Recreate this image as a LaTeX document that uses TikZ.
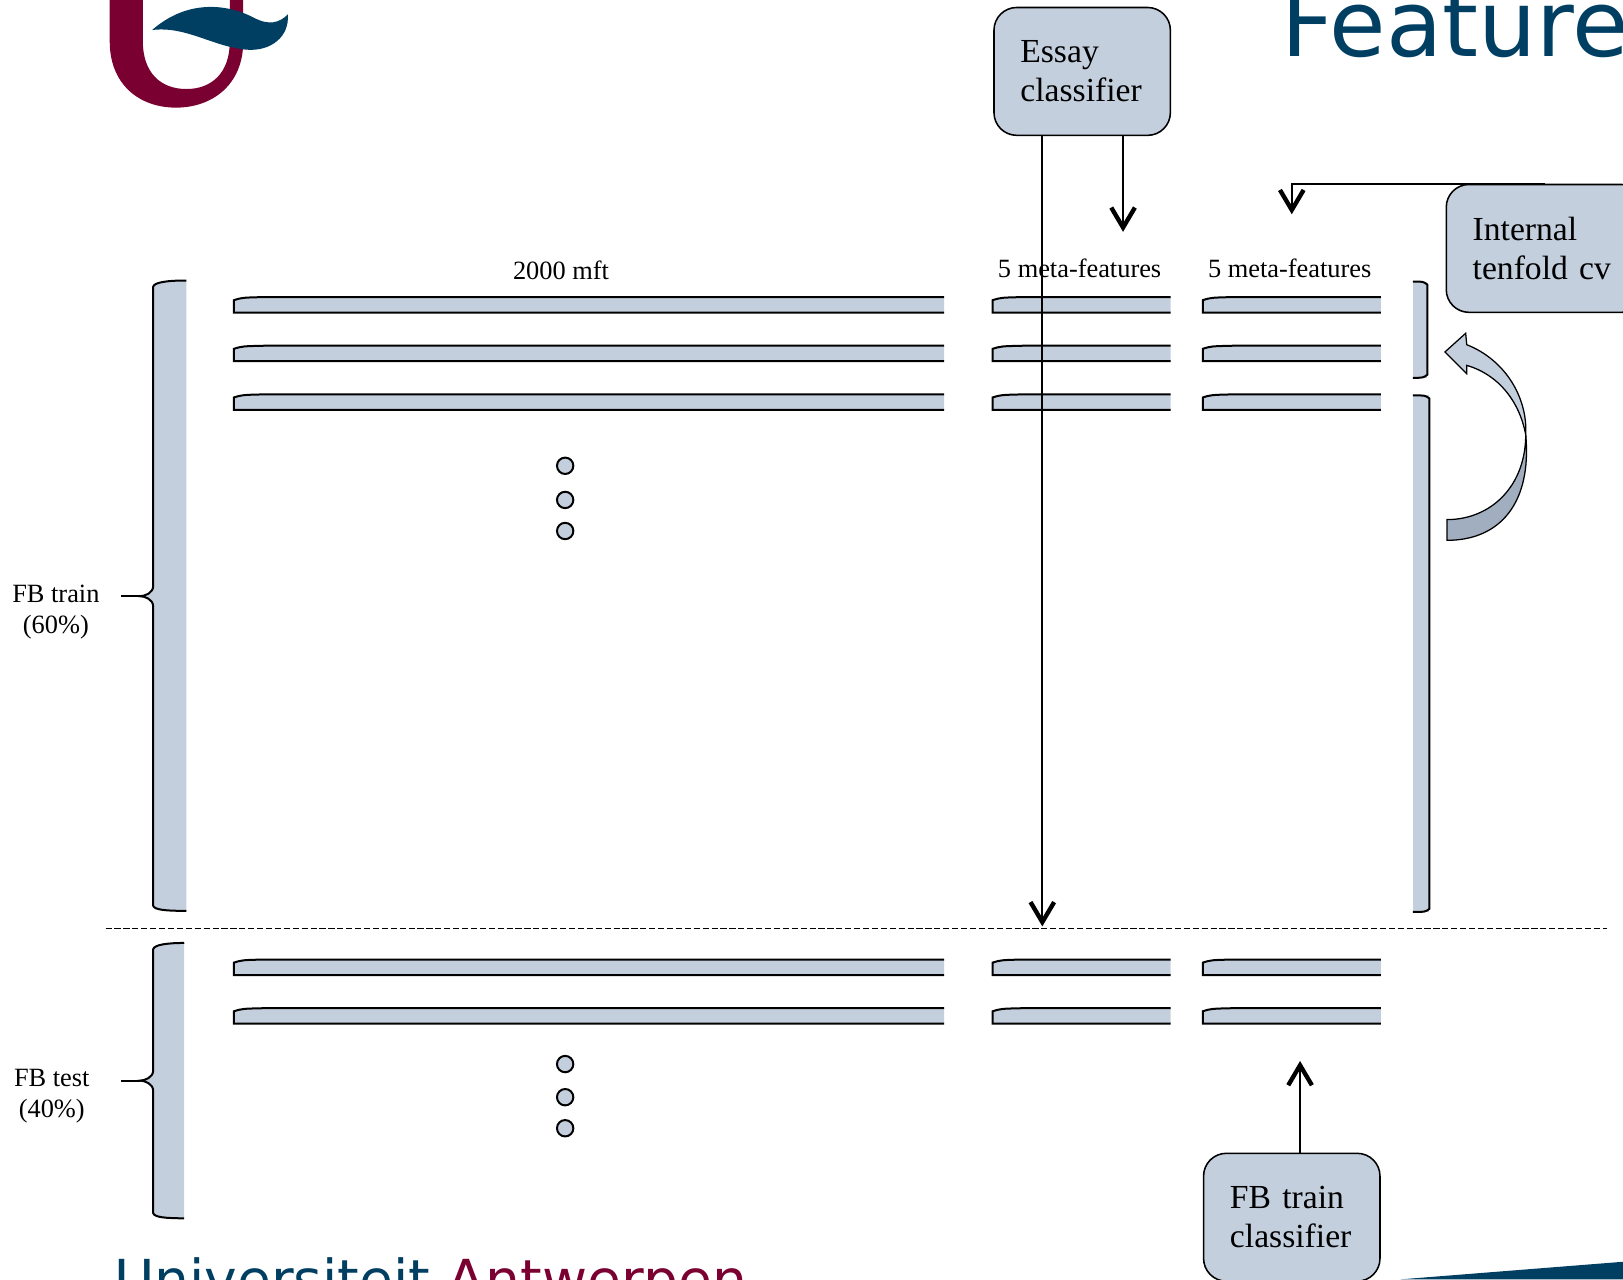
\documentclass[tikz,border=0pt]{standalone}
\usepackage{fontspec}
\setmainfont{Liberation Serif}
\newfontfamily\slidefont{DejaVu Sans}
\usetikzlibrary{arrows.meta,positioning}

\definecolor{barblue}{RGB}{196,207,222}
\definecolor{bardark}{RGB}{160,174,192}
\definecolor{uablue}{RGB}{0,62,98}
\definecolor{uared}{RGB}{122,0,49}

\tikzset{
  box/.style={draw, fill=barblue, rounded corners=12.5pt, line width=0.85pt,
    inner xsep=14.5pt, text width=68pt, minimum height=70.3pt, align=left,
    font=\fontsize{18.5}{21.5}\selectfont},
  lbl/.style={inner sep=0pt, font=\fontsize{14.5}{17}\selectfont},
  arr/.style={line width=1pt, -{Straight Barb[length=11pt,width=13pt,line width=2.4pt]}},
  barline/.style={line width=1.1pt},
}

% one feature vector: left x, right x, top y
\newcommand{\featbar}[3]{%
  \fill[barblue] (#2,#3) -- (#1+30,#3) .. controls (#1+8,#3+0.5) .. (#1,#3+3) -- (#1,#3+15) -- (#2,#3+15) -- cycle;
  \draw[barline] (#2,#3) -- (#1+30,#3) .. controls (#1+8,#3+0.5) .. (#1,#3+3) -- (#1,#3+15) -- (#2,#3+15);}

\begin{document}
\begin{tikzpicture}[x=0.02cm,y=-0.02cm]
    \useasboundingbox (0,0) rectangle (1568,1236);
    \clip (0,0) rectangle (1568,1236);
    % slide decoration
    \fill[uared] (106,-10) -- (106,40) .. controls (106,82) and (135,104) .. (170,104)
      .. controls (205,104) and (235,82) .. (235,40) -- (235,-10) -- (222,-10) -- (222,40)
      .. controls (222,70) and (205,86) .. (180,86) .. controls (155,86) and (138,70) .. (138,40) -- (138,-10) -- cycle;
    \fill[uablue] (147,29) .. controls (180,0) and (218,3) .. (245,17) .. controls (260,25) and (270,22) .. (278,14)
      .. controls (280,35) and (262,50) .. (238,48) .. controls (205,45) and (180,25) .. (147,29) -- cycle;
    \node[anchor=base west, inner sep=0pt, text=uablue, font=\slidefont\fontsize{50.5}{60}\selectfont] (title) at (1238,55) {Feature};
    \node[anchor=base west, inner sep=0pt, font=\slidefont\fontsize{30.3}{36}\selectfont] (ua) at (110,1255)
      {\textcolor{uablue}{Universiteit} \textcolor{uared}{Antwerpen}};
    \fill[uablue] (1353,1236) -- (1568,1219) -- (1568,1236) -- cycle;

    % feature vectors
    \foreach \y in {287,334,381,927,974}{
      \featbar{226}{912}{\y}
      \featbar{959}{1131}{\y}
      \featbar{1162}{1334}{\y}
    }
    \foreach \y in {450,483,513,1028,1060,1090}
      \draw[fill=barblue, line width=1.1pt] (546,\y) circle (4.5pt);

    \node[lbl] (mft) at (542,261) {2000 mft};
    \node[lbl] (meta1) at (1043,259) {5 meta-features};
    \node[lbl] (meta2) at (1246,259) {5 meta-features};

    % train / test braces
    \fill[barblue] (180,271) .. controls (160,271) and (149,273) .. (148,277) -- (148,566) .. controls (148,573) and (140,576) .. (135,576)
      .. controls (140,576) and (148,579) .. (148,586) -- (148,875) .. controls (149,879) and (160,880) .. (180,880) -- cycle;
    \draw[barline] (180,271) .. controls (160,271) and (149,273) .. (148,277) -- (148,566) .. controls (148,573) and (140,576) .. (135,576)
      .. controls (140,576) and (148,579) .. (148,586) -- (148,875) .. controls (149,879) and (160,880) .. (180,880);
    \draw[barline] (117,576) -- (135,576);
    \fill[barblue] (178,911) .. controls (160,911) and (149,913) .. (148,917) -- (148,1034) .. controls (148,1041) and (140,1044) .. (135,1044)
      .. controls (140,1044) and (148,1047) .. (148,1054) -- (148,1172) .. controls (149,1176) and (160,1177) .. (178,1177) -- cycle;
    \draw[barline] (178,911) .. controls (160,911) and (149,913) .. (148,917) -- (148,1034) .. controls (148,1041) and (140,1044) .. (135,1044)
      .. controls (140,1044) and (148,1047) .. (148,1054) -- (148,1172) .. controls (149,1176) and (160,1177) .. (178,1177);
    \draw[barline] (117,1044) -- (135,1044);
    \node[lbl, align=center] (train) at (54,591) {FB train\\(60\%)};
    \node[lbl, align=center] (test) at (50,1059) {FB test\\(40\%)};

    % folds on the right
    \fill[barblue] (1365,272) rectangle (1379,365);
    \draw[barline] (1365,272) .. controls (1375,272) .. (1379,275) -- (1379,362) .. controls (1375,365) .. (1365,365);
    \fill[barblue] (1365,382) rectangle (1381,881);
    \draw[barline] (1365,382) .. controls (1377,382) .. (1381,385) -- (1381,878) .. controls (1377,881) .. (1365,881);
    \filldraw[fill=barblue, line width=0.7pt] (1417,333) .. controls (1455,348) and (1476,385) .. (1474,420)
      .. controls (1468,388) and (1448,362) .. (1417,353) -- (1417,361) -- (1396,340) -- (1416,322) -- cycle;
    \filldraw[fill=bardark, line width=0.7pt] (1474,420) .. controls (1474,470) and (1440,502) .. (1398,502)
      -- (1398,522) .. controls (1450,522) and (1480,485) .. (1474,420) -- cycle;

    \draw[dash pattern=on 3.4pt off 1.5pt, line width=0.8pt] (102,897) -- (1553,897);

    % classifiers
    \node[box] (essay) at (1045.5,69) {Essay\\classifier};
    \node[box, text width=80pt] (cv) at (1493,240) {Internal\\tenfold cv};
    \node[box] (fbclf) at (1248,1176) {FB train\\classifier};

    \coordinate (split) at (1007,895);
    \coordinate (mf1) at (1085,224);
    \coordinate (mf2) at (1248,207);
    \coordinate (mf3) at (1256,1025);
    \draw[arr] (essay.south -| split) -- (split);
    \draw[arr] (essay.south -| mf1) -- (mf1);
    \draw[arr] (cv.north) -- (cv.north -| mf2) -- (mf2);
    \draw[arr] (fbclf.north -| mf3) -- (mf3);
\end{tikzpicture}
\end{document}
